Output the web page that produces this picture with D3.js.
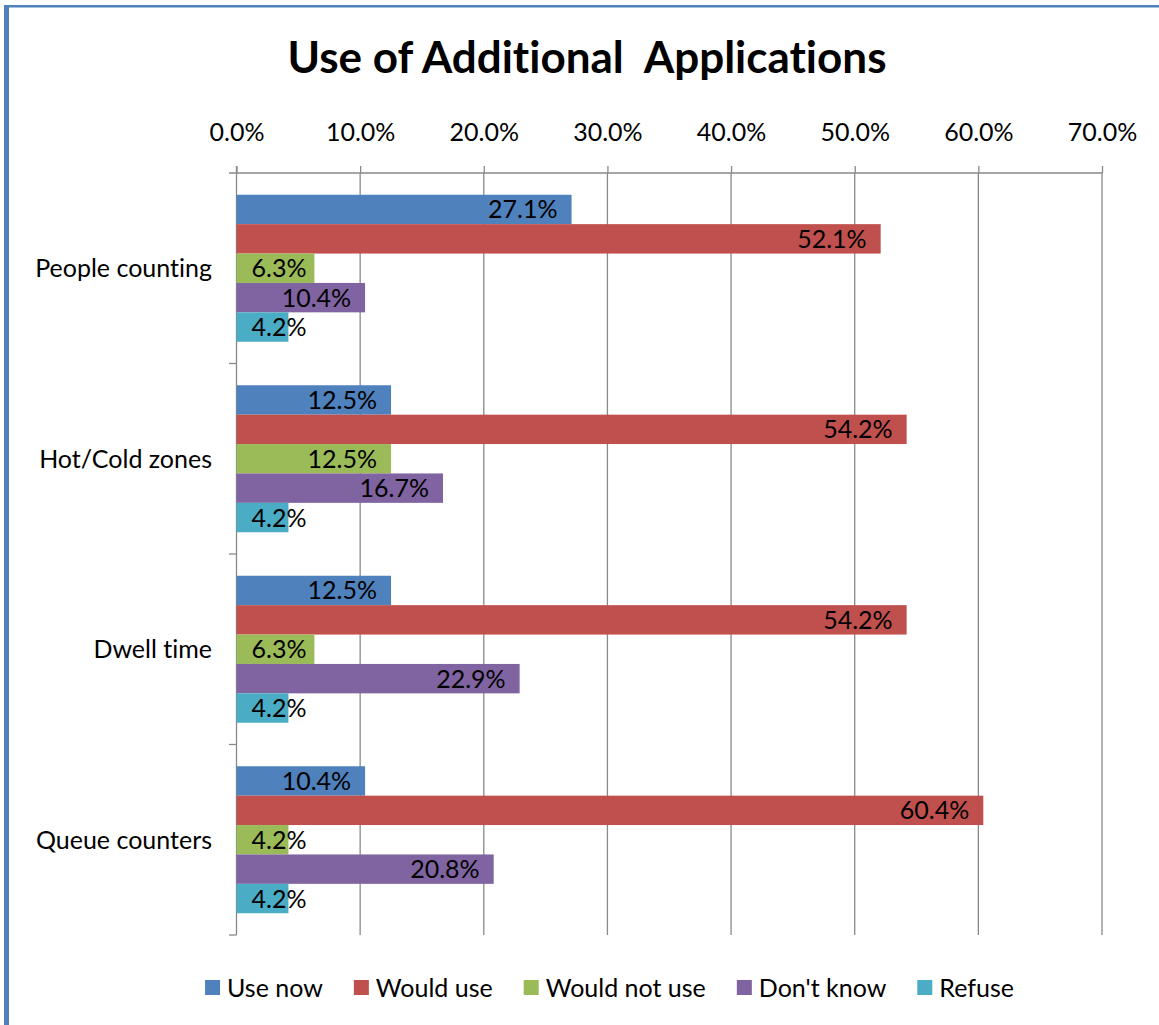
<!DOCTYPE html>
<html>
<head>
<meta charset="utf-8">
<script src="https://cdn.jsdelivr.net/npm/d3@7"></script>
<style>
  body { margin: 0; background: #fff; }
  svg text { font-family: Lato, "Open Sans", sans-serif; font-variant-ligatures: none; }
  .tick text { font-size: 25px; fill: #000; }
  .title { font-size: 44px; font-weight: bold; white-space: pre; }
  .cat, .vlabel, .ltext { font-size: 25px; fill: #000; }
</style>
</head>
<body>
<div id="chart"></div>
<script>
var categories = ["People counting", "Hot/Cold zones", "Dwell time", "Queue counters"];
var series = ["Use now", "Would use", "Would not use", "Don't know", "Refuse"];
var colors = ["#4F81BD", "#C0504D", "#9BBB59", "#8064A2", "#4BACC6"];
// percent values, one array per series, in category order
var useNow      = [27.1, 12.5, 12.5, 10.4];
var wouldUse    = [52.1, 54.2, 54.2, 60.4];
var wouldNotUse = [6.3, 12.5, 6.3, 4.2];
var dontKnow    = [10.4, 16.7, 22.9, 20.8];
var refuse      = [4.2, 4.2, 4.2, 4.2];
var xTicks = [0, 0.1, 0.2, 0.3, 0.4, 0.5, 0.6, 0.7];

var values = [useNow, wouldUse, wouldNotUse, dontKnow, refuse];

drawChart();

function drawChart() {
  const W = 1159, H = 1025;
  const plot = {left: 236.5, right: 1102, top: 173, bottom: 935};

  var svg = d3.select("#chart")
    .append("svg")
    .attr("width", W)
    .attr("height", H);

  svg.append("rect").attr("width", W).attr("height", H).style("fill", "#fff");

  // outer frame (only top and left show)
  svg.append("line")
    .attr("x1", 6.5).attr("x2", 6.5).attr("y1", 5).attr("y2", H)
    .style("stroke", "#4F81BD").style("stroke-width", 5);
  svg.append("line")
    .attr("x1", 4).attr("x2", W).attr("y1", 6.2).attr("y2", 6.2)
    .style("stroke", "#4F81BD").style("stroke-width", 2.5);

  svg.append("text")
    .attr("class", "title")
    .attr("x", 587)
    .attr("y", 73)
    .attr("text-anchor", "middle")
    .text("Use of Additional  Applications");

  var x = d3.scaleLinear()
    .domain([0, 0.7])
    .range([plot.left, plot.right]);
  var y = d3.scaleBand()
    .domain(categories)
    .range([plot.top, plot.bottom]);
  var ys = d3.scaleBand()
    .domain(series)
    .range([0, y.bandwidth()])
    .paddingOuter(0.74);

  // gridlines
  svg.selectAll(".grid").data(xTicks.slice(1))
    .enter().append("line")
    .attr("class", "grid")
    .attr("x1", function(d) {return x(d);})
    .attr("x2", function(d) {return x(d);})
    .attr("y1", plot.top)
    .attr("y2", plot.bottom)
    .style("stroke", "#898989")
    .style("stroke-width", 1.3);

  var xAxis = d3.axisTop(x)
    .tickValues(xTicks)
    .tickFormat(d3.format(".1%"))
    .tickSizeInner(7)
    .tickSizeOuter(0)
    .tickPadding(9);

  var gx = svg.append("g")
    .attr("class", "axis axis-x")
    .attr("transform", "translate(0," + plot.top + ")")
    .call(xAxis);
  gx.attr("font-family", null).attr("font-size", null);
  gx.select(".domain").remove();
  gx.selectAll(".tick line").style("stroke", "#898989").style("stroke-width", 1.3);
  gx.selectAll(".tick text").attr("y", -32).attr("dy", 0);

  // category axis line + boundary ticks
  svg.append("line")
    .attr("x1", plot.left - 7.5).attr("x2", plot.right)
    .attr("y1", plot.top).attr("y2", plot.top)
    .style("stroke", "#898989").style("stroke-width", 1.3);
  svg.append("line")
    .attr("x1", plot.left).attr("x2", plot.left)
    .attr("y1", plot.top - 7).attr("y2", plot.bottom)
    .style("stroke", "#898989").style("stroke-width", 1.3);
  var bounds = categories.map(function(c) {return y(c) + y.bandwidth();});
  svg.selectAll(".ctick").data(bounds)
    .enter().append("line")
    .attr("class", "ctick")
    .attr("x1", plot.left - 7.5).attr("x2", plot.left)
    .attr("y1", function(d) {return d;})
    .attr("y2", function(d) {return d;})
    .style("stroke", "#898989").style("stroke-width", 1.3);

  svg.selectAll(".cat").data(categories)
    .enter().append("text")
    .attr("class", "cat")
    .attr("x", 212)
    .attr("y", function(d) {return y(d) + y.bandwidth() / 2;})
    .attr("dy", "0.35em")
    .attr("text-anchor", "end")
    .text(function(d) {return d;});

  // bars
  var rows = [];
  series.forEach(function(s, i) {
    categories.forEach(function(c, j) {
      rows.push({s: s, c: c, v: values[i][j] / 100, color: colors[i]});
    });
  });

  svg.selectAll(".bar").data(rows)
    .enter().append("rect")
    .attr("class", "bar")
    .attr("x", plot.left)
    .attr("y", function(d) {return y(d.c) + ys(d.s);})
    .attr("width", function(d) {return x(d.v) - plot.left;})
    .attr("height", ys.bandwidth())
    .style("fill", function(d) {return d.color;});

  svg.selectAll(".vlabel").data(rows)
    .enter().append("text")
    .attr("class", "vlabel")
    .attr("text-anchor", "end")
    .attr("y", function(d) {return y(d.c) + ys(d.s) + ys.bandwidth() / 2;})
    .attr("dy", "0.36em")
    .text(function(d) {return d3.format(".1%")(d.v);})
    .attr("x", function(d) {
      var w = this.getComputedTextLength();
      return Math.max(x(d.v) - 14, plot.left + 15 + w);
    });

  // legend
  var legend = svg.append("g").attr("class", "legend");
  var lx = 0;
  series.forEach(function(s, i) {
    var g = legend.append("g").attr("transform", "translate(" + lx + ",0)");
    g.append("rect")
      .attr("x", 0).attr("y", -8)
      .attr("width", 15).attr("height", 15)
      .style("fill", colors[i]);
    var t = g.append("text")
      .attr("class", "ltext")
      .attr("x", 22)
      .attr("dy", "0.35em")
      .text(s);
    lx += 22 + t.node().getComputedTextLength() + 31;
  });
  var total = lx - 31;
  legend.attr("transform", "translate(" + (609.5 - total / 2) + ",988)");
}
</script>
</body>
</html>
